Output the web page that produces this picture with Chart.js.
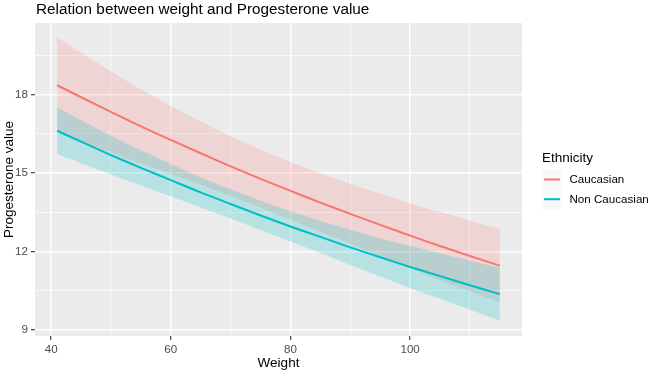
<!DOCTYPE html>
<html lang="en">
<head>
  <meta charset="UTF-8" />
  <title>Relation between weight and Progesterone value</title>
  <script src="https://cdn.jsdelivr.net/npm/chart.js"></script>
  <style>
    * { margin: 0; padding: 0; box-sizing: border-box; }
    body { background: #fff; width: 649px; height: 373px; overflow: hidden; }
    canvas { display: block; }
  </style>
</head>
<body>
<canvas id="chart" width="649" height="373"></canvas>
<script>
// values
const weights = [41, 45, 50, 55, 60, 65, 70, 75, 80, 85, 90, 95, 100, 105, 110, 115];

const caucFit  = [18.36, 17.90, 17.34, 16.79, 16.27, 15.76, 15.26, 14.78, 14.32, 13.87, 13.44, 13.02, 12.61, 12.21, 11.83, 11.46];
const caucHigh = [20.19, 19.60, 18.89, 18.21, 17.57, 16.97, 16.41, 15.89, 15.42, 14.98, 14.58, 14.21, 13.85, 13.51, 13.18, 12.86];
const caucLow  = [16.53, 16.20, 15.79, 15.37, 14.97, 14.55, 14.11, 13.67, 13.22, 12.76, 12.30, 11.83, 11.37, 10.91, 10.48, 10.06];

const nonFit  = [16.62, 16.20, 15.69, 15.20, 14.73, 14.26, 13.82, 13.38, 12.96, 12.56, 12.16, 11.78, 11.41, 11.06, 10.71, 10.37];
const nonHigh = [17.51, 17.02, 16.43, 15.87, 15.35, 14.84, 14.38, 13.94, 13.54, 13.18, 12.83, 12.51, 12.21, 11.93, 11.65, 11.38];
const nonLow  = [15.73, 15.38, 14.95, 14.53, 14.11, 13.68, 13.26, 12.82, 12.38, 11.94, 11.49, 11.05, 10.61, 10.19, 9.77, 9.36];

const groups = ['Caucasian', 'Non Caucasian'];
const xTicks = [40, 60, 80, 100];
const xMinor = [50, 70, 90, 110];
const yTicks = [9, 12, 15, 18];
const yMinor = [10.5, 13.5, 16.5, 19.5];

const RED = '#F8766D';
const TEAL = '#00BFC4';
const FONT = '"Liberation Sans", Arial, sans-serif';

const pts = arr => weights.map((w, i) => ({ x: w, y: arr[i] }));

function band(data, fillTo, color, order) {
  return {
    data: pts(data),
    borderColor: 'rgba(0,0,0,0)',
    borderWidth: 0,
    pointRadius: 0,
    backgroundColor: color,
    fill: fillTo === null ? false : { target: fillTo },
    tension: 0.3,
    order: order
  };
}

function fitLine(data, color, order) {
  return {
    data: pts(data),
    borderColor: color,
    borderWidth: 2,
    pointRadius: 0,
    fill: false,
    tension: 0.3,
    order: order
  };
}

const panelPlugin = {
  id: 'panel',
  beforeDraw(chart) {
    const { ctx, chartArea: a } = chart;
    ctx.save();
    ctx.fillStyle = '#fff';
    ctx.fillRect(0, 0, chart.width, chart.height);
    ctx.fillStyle = '#EBEBEB';
    ctx.fillRect(a.left, a.top, a.right - a.left, a.bottom - a.top);
    ctx.restore();
  },
  afterDraw(chart) {
    const { ctx, chartArea: a } = chart;
    ctx.save();
    // title
    ctx.fillStyle = '#000';
    ctx.font = '15.3px ' + FONT;
    ctx.textAlign = 'left';
    ctx.textBaseline = 'alphabetic';
    ctx.fillText('Relation between weight and Progesterone value', 36, 14);

    // axis titles
    ctx.font = '13.5px ' + FONT;
    ctx.textAlign = 'center';
    ctx.fillText('Weight', (a.left + a.right) / 2, 367);
    ctx.save();
    ctx.translate(13, (a.top + a.bottom) / 2);
    ctx.rotate(-Math.PI / 2);
    ctx.fillText('Progesterone value', 0, 0);
    ctx.restore();

    // legend
    ctx.textAlign = 'left';
    ctx.fillText('Ethnicity', 542, 161.5);
    const colors = [RED, TEAL];
    ctx.font = '11.6px ' + FONT;
    ctx.textBaseline = 'middle';
    groups.forEach((g, i) => {
      const cy = 179.5 + i * 19.7;
      ctx.fillStyle = '#F8F8F8';
      ctx.fillRect(542, cy - 9.5, 19.5, 19.5);
      ctx.strokeStyle = colors[i];
      ctx.lineWidth = 2;
      ctx.beginPath();
      ctx.moveTo(544, cy);
      ctx.lineTo(560, cy);
      ctx.stroke();
      ctx.fillStyle = '#000';
      ctx.fillText(g, 569.5, cy + 0.5);
    });
    ctx.restore();
  }
};

const isMajor = (list, v) => list.some(t => Math.abs(t - v) < 1e-6);

new Chart(document.getElementById('chart'), {
  type: 'line',
  data: {
    datasets: [
      band(caucHigh, null, 'rgba(248,118,109,0.2)', 5),
      band(caucLow, 0, 'rgba(248,118,109,0.2)', 4),
      fitLine(caucFit, RED, 3),
      band(nonHigh, null, 'rgba(0,191,196,0.22)', 2),
      band(nonLow, 3, 'rgba(0,191,196,0.22)', 1),
      fitLine(nonFit, TEAL, 0)
    ]
  },
  options: {
    responsive: false,
    animation: false,
    devicePixelRatio: 1,
    layout: { padding: { top: 23, right: 127, left: 0, bottom: 0 } },
    plugins: { legend: { display: false }, tooltip: { enabled: false }, title: { display: false } },
    scales: {
      x: {
        type: 'linear',
        min: 37.3,
        max: 118.7,
        afterBuildTicks: s => { s.ticks = [...xTicks, ...xMinor].sort((p, q) => p - q).map(v => ({ value: v })); },
        afterFit: s => { s.height = 37; },
        border: { display: false },
        grid: {
          color: '#fff',
          lineWidth: c => isMajor(xTicks, c.tick.value) ? 1.4 : 0.7,
          tickColor: c => isMajor(xTicks, c.tick.value) ? '#333333' : 'rgba(0,0,0,0)',
          tickLength: 4,
          tickWidth: 1.1
        },
        ticks: {
          autoSkip: false,
          maxRotation: 0,
          padding: 3,
          color: '#4D4D4D',
          font: { family: FONT, size: 11.6 },
          callback: v => isMajor(xTicks, v) ? String(v) : ''
        }
      },
      y: {
        type: 'linear',
        min: 8.77,
        max: 20.74,
        afterBuildTicks: s => { s.ticks = [...yTicks, ...yMinor].sort((p, q) => p - q).map(v => ({ value: v })); },
        afterFit: s => { s.width = 35; },
        border: { display: false },
        grid: {
          color: '#fff',
          lineWidth: c => isMajor(yTicks, c.tick.value) ? 1.4 : 0.7,
          tickColor: c => isMajor(yTicks, c.tick.value) ? '#333333' : 'rgba(0,0,0,0)',
          tickLength: 4,
          tickWidth: 1.1
        },
        ticks: {
          autoSkip: false,
          padding: 3,
          color: '#4D4D4D',
          font: { family: FONT, size: 11.6 },
          callback: v => isMajor(yTicks, v) ? String(v) : ''
        }
      }
    }
  },
  plugins: [panelPlugin]
});
</script>
</body>
</html>
